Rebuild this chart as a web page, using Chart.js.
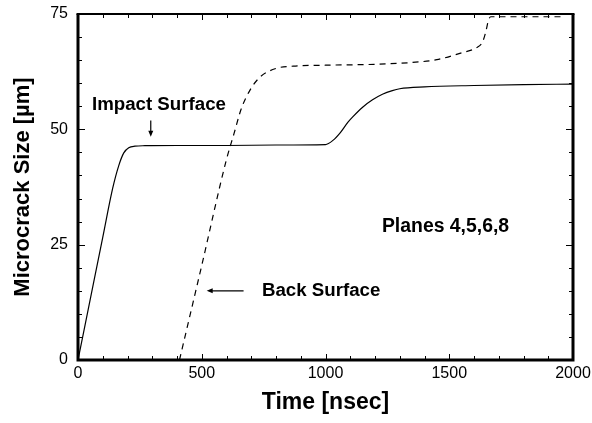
<!DOCTYPE html>
<html>
<head>
<meta charset="utf-8">
<script src="https://cdn.jsdelivr.net/npm/chart.js@4.4.1/dist/chart.umd.min.js"></script>
<style>
  html, body { margin: 0; padding: 0; background: #fff; }
  #wrap { width: 592px; height: 423px; }
</style>
</head>
<body>
<div id="wrap"><canvas id="c" width="592" height="423"></canvas></div>
<script>
// ---- data ----
const impactTime = [0, 50, 100, 140, 165, 185, 205, 230, 270, 400, 600, 800, 1000, 1030, 1060, 1090, 1110, 1150, 1190, 1230, 1270, 1300, 1400, 1600, 1800, 2000];
const impactSize = [0, 13.3, 26.6, 37.2, 42.2, 44.9, 46.0, 46.35, 46.45, 46.5, 46.5, 46.6, 46.7, 47.6, 49.3, 51.5, 52.7, 54.8, 56.4, 57.6, 58.4, 58.8, 59.2, 59.5, 59.7, 59.8];
const backTime = [410, 500, 600, 630, 660, 695, 735, 800, 870, 1000, 1200, 1350, 1450, 1550, 1610, 1635, 1648, 1658, 1668, 1700, 1950];
const backSize = [0, 20.5, 43.5, 49, 54.5, 58.5, 61.3, 63.2, 63.7, 63.9, 64.1, 64.5, 65.1, 66.6, 67.7, 69, 71.2, 73.6, 74.4, 74.4, 74.4];
const xTickLabels = [0, 500, 1000, 1500, 2000];
const yTickLabels = [0, 25, 50, 75];

const xTitle = 'Time [nsec]';
const yTitle = 'Microcrack Size [\u00B5m]';
const notes = {
  impact: 'Impact Surface',
  back: 'Back Surface',
  planes: 'Planes 4,5,6,8'
};

const FONT = '"Liberation Sans", Arial, Helvetica, sans-serif';

const toPts = (xs, ys) => xs.map((x, i) => ({ x: x, y: ys[i] }));

const framePlugin = {
  id: 'frame',
  afterDatasetsDraw(chart) {
    const ctx = chart.ctx;
    const xs = chart.scales.x, ys = chart.scales.y;
    const a = chart.chartArea;
    ctx.save();
    ctx.strokeStyle = '#000';
    ctx.lineCap = 'butt';
    // minor/major ticks, inward, all four sides
    ctx.lineWidth = 1;
    for (let t = 0; t <= 2000; t += 100) {
      const px = Math.round(xs.getPixelForValue(t)) + 0.5;
      const len = (t % 500 === 0) ? 6 : 4;
      ctx.beginPath();
      ctx.moveTo(px, a.bottom); ctx.lineTo(px, a.bottom - len);
      ctx.moveTo(px, a.top); ctx.lineTo(px, a.top + len);
      ctx.stroke();
    }
    for (let v = 0; v <= 75; v += 5) {
      const py = Math.round(ys.getPixelForValue(v)) + 0.5;
      const len = (v % 25 === 0) ? 7 : 4;
      ctx.beginPath();
      ctx.moveTo(a.left, py); ctx.lineTo(a.left + len, py);
      ctx.moveTo(a.right, py); ctx.lineTo(a.right - len, py);
      ctx.stroke();
    }
    // frame
    ctx.lineWidth = 3;
    ctx.beginPath();
    ctx.moveTo(a.left, a.top); ctx.lineTo(a.left, a.bottom + 1.5);
    ctx.moveTo(a.left - 1.5, a.bottom); ctx.lineTo(a.right + 1.5, a.bottom);
    ctx.moveTo(a.right, a.bottom); ctx.lineTo(a.right, a.top);
    ctx.stroke();
    ctx.lineWidth = 2.2;
    ctx.beginPath();
    ctx.moveTo(a.left - 1.5, a.top); ctx.lineTo(a.right + 1.5, a.top);
    ctx.stroke();

    // annotations (positioned in data coordinates)
    ctx.fillStyle = '#000';
    ctx.textBaseline = 'middle';
    ctx.font = 'bold 18.7px ' + FONT;
    ctx.textAlign = 'center';
    ctx.fillText(notes.impact, xs.getPixelForValue(327), ys.getPixelForValue(55.3));
    ctx.textAlign = 'left';
    ctx.fillText(notes.back, xs.getPixelForValue(743), ys.getPixelForValue(15));
    ctx.font = 'bold 19.4px ' + FONT;
    ctx.fillText(notes.planes, xs.getPixelForValue(1228), ys.getPixelForValue(29));

    // arrows
    ctx.lineWidth = 1.2;
    const ax = xs.getPixelForValue(294);
    const ay0 = ys.getPixelForValue(51.9), ay1 = ys.getPixelForValue(48.4);
    ctx.beginPath(); ctx.moveTo(ax, ay0); ctx.lineTo(ax, ay1 - 5); ctx.stroke();
    ctx.beginPath(); ctx.moveTo(ax, ay1); ctx.lineTo(ax - 2.5, ay1 - 6); ctx.lineTo(ax + 2.5, ay1 - 6); ctx.closePath(); ctx.fill();

    const by = ys.getPixelForValue(15);
    const bx0 = xs.getPixelForValue(669), bx1 = xs.getPixelForValue(520);
    ctx.beginPath(); ctx.moveTo(bx0, by); ctx.lineTo(bx1 + 5, by); ctx.stroke();
    ctx.beginPath(); ctx.moveTo(bx1, by); ctx.lineTo(bx1 + 6, by - 2.5); ctx.lineTo(bx1 + 6, by + 2.5); ctx.closePath(); ctx.fill();
    ctx.restore();
  }
};

new Chart(document.getElementById('c'), {
  type: 'line',
  data: {
    datasets: [
      {
        label: notes.impact,
        data: toPts(impactTime, impactSize),
        borderColor: '#000',
        borderWidth: 1.2,
        pointRadius: 0,
        fill: false,
        cubicInterpolationMode: 'monotone'
      },
      {
        label: notes.back,
        data: toPts(backTime, backSize),
        borderColor: '#000',
        borderWidth: 1.2,
        borderDash: [6, 5],
        pointRadius: 0,
        fill: false,
        cubicInterpolationMode: 'monotone'
      }
    ]
  },
  options: {
    responsive: false,
    animation: false,
    devicePixelRatio: 1,
    layout: { padding: { left: 0, right: 19, top: 14, bottom: 0 } },
    plugins: {
      legend: { display: false },
      tooltip: { enabled: false }
    },
    scales: {
      x: {
        type: 'linear',
        min: 0, max: 2000,
        afterBuildTicks: (s) => { s.ticks = xTickLabels.map(v => ({ value: v })); },
        afterFit: (s) => { s.height = 63; s.paddingRight = 0; s.paddingLeft = 0; },
        grid: { display: false, drawTicks: false },
        border: { display: false },
        ticks: { color: '#000', padding: 4, font: { family: FONT, size: 16 }, maxRotation: 0, callback: (v) => String(v) },
        title: { display: true, text: xTitle, color: '#000', padding: { top: 0, bottom: 7 }, font: { family: FONT, size: 23, weight: 'bold' } }
      },
      y: {
        type: 'linear',
        min: 0, max: 75,
        afterBuildTicks: (s) => { s.ticks = yTickLabels.map(v => ({ value: v })); },
        afterFit: (s) => { s.width = 78; s.paddingTop = 0; s.paddingBottom = 0; },
        grid: { display: false, drawTicks: false },
        border: { display: false },
        ticks: { color: '#000', padding: 10, font: { family: FONT, size: 16 }, callback: (v) => String(v) },
        title: { display: true, text: yTitle, color: '#000', padding: { top: 10, bottom: 0 }, font: { family: FONT, size: 22, weight: 'bold' } }
      }
    }
  },
  plugins: [framePlugin]
});
</script>
</body>
</html>
